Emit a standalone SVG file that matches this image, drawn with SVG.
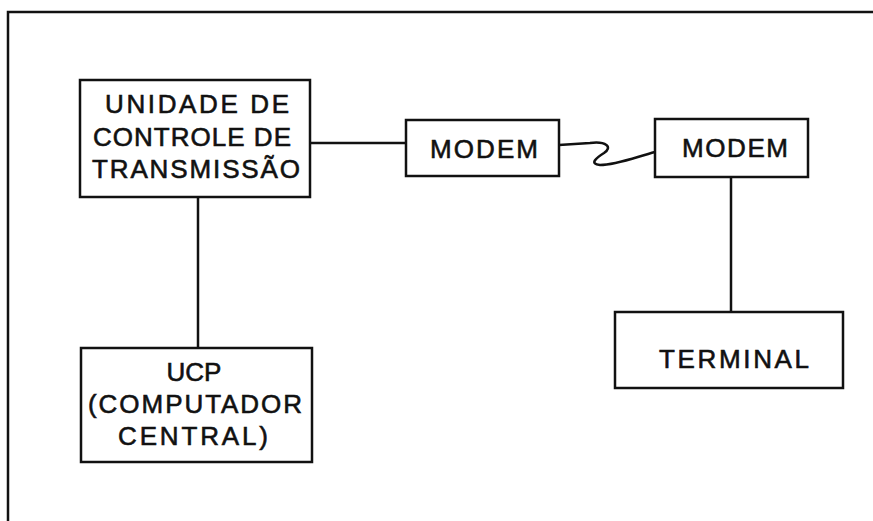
<svg xmlns="http://www.w3.org/2000/svg" width="873" height="521" viewBox="0 0 873 521">
<style>
.box{fill:#fff;stroke:#111;stroke-width:2.5}
.ln{fill:none;stroke:#111;stroke-width:2.5}
.t{font-family:"Liberation Sans",Arial,sans-serif;font-size:26px;fill:#111;stroke:#111;stroke-width:0.6;text-anchor:middle}
</style>
<rect width="873" height="521" fill="#fff"/>
<path class="ln" d="M8,521 V12 H873"/>
<g id="connectors">
<path class="ln" d="M310,143 H406"/>
<path class="ln" d="M559,145 L590,143 C606,141 613,147 604,153 C596,158 589,164 600,165 C616,165 636,157 655,152"/>
<path class="ln" d="M198,197 V348"/>
<path class="ln" d="M731,177 V312"/>
</g>
<g id="unidade">
<rect class="box" x="80" y="80" width="230" height="117"/>
<text class="t" x="197" y="113" textLength="184" lengthAdjust="spacing">UNIDADE DE</text>
<text class="t" x="192" y="146" textLength="198" lengthAdjust="spacing">CONTROLE DE</text>
<text class="t" x="196" y="178" textLength="208" lengthAdjust="spacing">TRANSMISSÃO</text>
</g>
<g id="modem1">
<rect class="box" x="406" y="120" width="153" height="56"/>
<text class="t" x="484" y="158" textLength="108" lengthAdjust="spacing">MODEM</text>
</g>
<g id="modem2">
<rect class="box" x="655" y="119" width="153" height="58"/>
<text class="t" x="735" y="157" textLength="106" lengthAdjust="spacing">MODEM</text>
</g>
<g id="terminal">
<rect class="box" x="615" y="312" width="228" height="76"/>
<text class="t" x="734" y="368" textLength="150" lengthAdjust="spacing">TERMINAL</text>
</g>
<g id="ucp">
<rect class="box" x="81" y="348" width="231" height="114"/>
<text class="t" x="194" y="381">UCP</text>
<text class="t" x="195" y="413" textLength="214" lengthAdjust="spacing">(COMPUTADOR</text>
<text class="t" x="193" y="445" textLength="150" lengthAdjust="spacing">CENTRAL)</text>
</g>
</svg>
